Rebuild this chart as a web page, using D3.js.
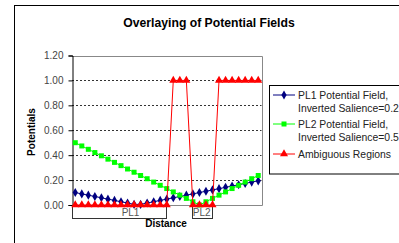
<!DOCTYPE html>
<html>
<head>
<meta charset="utf-8">
<script src="https://cdn.jsdelivr.net/npm/d3@7"></script>
<style>
  html, body { margin: 0; padding: 0; background: #fff; }
  svg { display: block; font-family: "Liberation Sans", Arial, sans-serif; }
</style>
</head>
<body>
<svg id="chart" width="399" height="243"></svg>
<script>
// ---- data ----
const categories = d3.range(29).map(i => i + 1);
const pl1Values = [0.100, 0.089, 0.079, 0.068, 0.058, 0.047, 0.037, 0.026, 0.016, 0.005,
                   0.005, 0.016, 0.026, 0.037, 0.047, 0.058, 0.068, 0.079, 0.089, 0.100,
                   0.110, 0.121, 0.131, 0.142, 0.152, 0.163, 0.173, 0.184, 0.194];
const pl2Values = [0.500, 0.474, 0.447, 0.421, 0.395, 0.368, 0.342, 0.316, 0.289, 0.263,
                   0.237, 0.211, 0.184, 0.158, 0.132, 0.105, 0.079, 0.053, 0.026, 0.000,
                   0.026, 0.053, 0.079, 0.105, 0.132, 0.158, 0.184, 0.211, 0.237];
const ambiguousValues = [0, 0, 0, 0, 0, 0, 0, 0, 0, 0, 0, 0, 0, 0, 0,
                         1, 1, 1, 0, 0, 0, 0, 1, 1, 1, 1, 1, 1, 1];
const seriesNames = ["PL1 Potential Field,|Inverted Salience=0.2",
                     "PL2 Potential Field,|Inverted Salience=0.5",
                     "Ambiguous Regions"];
const yTicks = [0, 0.2, 0.4, 0.6, 0.8, 1.0, 1.2];
const regionLabels = ["PL1", "PL2"];
const regionStart = [-0.5, 17.8];   // in category-index units
const regionEnd = [13.95, 20.9];
const title = "Overlaying of Potential Fields";
const xTitle = "Distance";
const yTitle = "Potentials";

// ---- layout ----
const svg = d3.select("#chart");
const L = 72, R = 261.5, T = 55.5, B = 205;

const x = d3.scaleLinear().domain([-0.5, categories.length - 0.5]).range([L, R]);
const y = d3.scaleLinear().domain([0, 1.2]).range([B, T]);

// outer chart border
svg.append("rect").attr("x", 14.5).attr("y", 5.5).attr("width", 400).attr("height", 250)
  .attr("fill", "#fff").attr("stroke", "#000").attr("stroke-width", 1);

// title
svg.append("text").attr("x", 209).attr("y", 27).attr("text-anchor", "middle")
  .attr("font-size", 12.2).attr("font-weight", "bold").attr("fill", "#000").text(title);

// gridlines
svg.append("g").selectAll("line").data(yTicks.filter(v => v > 0 && v < 1.2)).join("line")
  .attr("x1", L).attr("x2", R)
  .attr("y1", d => Math.round(y(d)) + 0.5).attr("y2", d => Math.round(y(d)) + 0.5)
  .attr("stroke", "#333").attr("stroke-dasharray", "2,2").attr("stroke-width", 1);

// plot border (top, right, bottom)
svg.append("path")
  .attr("d", `M${L},${Math.round(T) + 0.5}H${Math.round(R) + 0.5}V${B + 0.5}H${L}`)
  .attr("fill", "none").attr("stroke", "#888").attr("stroke-width", 1);

// region annotation boxes below axis
const regions = regionLabels.map((lab, i) => ({ lab, a: regionStart[i], b: regionEnd[i] }));
const rg = svg.append("g");
rg.selectAll("rect").data(regions).join("rect")
  .attr("x", d => Math.round(x(d.a)) + 0.5)
  .attr("y", B + 0.5)
  .attr("width", d => Math.round(x(d.b) - x(d.a)))
  .attr("height", 13)
  .attr("fill", "#fff").attr("stroke", "#333").attr("stroke-width", 1);
rg.selectAll("text").data(regions).join("text")
  .attr("x", (d, i) => i === 0 ? x(d.a + (d.b - d.a) * 0.62) : x((d.a + d.b) / 2))
  .attr("y", B + 11)
  .attr("text-anchor", "middle").attr("font-size", 10).attr("fill", "#555").text(d => d.lab);

// y axis
const yAxis = d3.axisLeft(y).tickValues(yTicks).tickFormat(d3.format(".2f"))
  .tickSize(4).tickPadding(5);
const yg = svg.append("g").attr("transform", `translate(${L + 0.5},0)`).call(yAxis);
yg.select(".domain").attr("stroke", "#000");
yg.selectAll(".tick line").attr("stroke", "#000");
yg.selectAll(".tick text").attr("font-size", 10).attr("fill", "#444")
  .attr("font-family", "Liberation Sans, Arial, sans-serif");

// axis titles
svg.append("text").attr("x", 166).attr("y", 227).attr("text-anchor", "middle")
  .attr("font-size", 10).attr("font-weight", "bold").attr("fill", "#000").text(xTitle);
svg.append("text").attr("transform", "translate(35,132) rotate(-90)").attr("text-anchor", "middle")
  .attr("font-size", 10).attr("font-weight", "bold").attr("fill", "#000").text(yTitle);

// series
const series = [
  { name: seriesNames[0], values: pl1Values, color: "#000080", marker: "diamond" },
  { name: seriesNames[1], values: pl2Values, color: "#00FF00", marker: "square" },
  { name: seriesNames[2], values: ambiguousValues, color: "#FF0000", marker: "triangle" }
];
const symbolType = { diamond: d3.symbolDiamond, square: d3.symbolSquare, triangle: d3.symbolTriangle };
const symbolSize = { diamond: 24, square: 25, triangle: 28 };

const line = d3.line().x((d, i) => x(i)).y(d => y(d));
series.forEach(s => {
  const g = svg.append("g");
  g.append("path").datum(s.values).attr("d", line)
    .attr("fill", "none").attr("stroke", s.color).attr("stroke-width", 1);
  g.selectAll("path.m").data(s.values).join("path").attr("class", "m")
    .attr("transform", (d, i) => `translate(${x(i)},${y(d)})`)
    .attr("d", d3.symbol().type(symbolType[s.marker]).size(symbolSize[s.marker]))
    .attr("fill", s.color);
});

// legend
const lg = svg.append("g");
lg.append("rect").attr("x", 269.5).attr("y", 85.5).attr("width", 140).attr("height", 88.5)
  .attr("fill", "#fff").attr("stroke", "#000").attr("stroke-width", 1);
const legendY = [95, 124, 154];
series.forEach((s, i) => {
  const yy = legendY[i];
  lg.append("line").attr("x1", 273).attr("x2", 295).attr("y1", yy).attr("y2", yy)
    .attr("stroke", s.color).attr("stroke-width", 1);
  lg.append("path").attr("transform", `translate(284,${yy})`)
    .attr("d", d3.symbol().type(symbolType[s.marker]).size(symbolSize[s.marker]))
    .attr("fill", s.color);
  const lines = s.name.split("|");
  lines.forEach((t, j) => {
    lg.append("text").attr("x", 298).attr("y", yy + 3.5 + j * 13)
      .attr("font-size", 10.4).attr("fill", "#222").text(t);
  });
});
</script>
</body>
</html>
